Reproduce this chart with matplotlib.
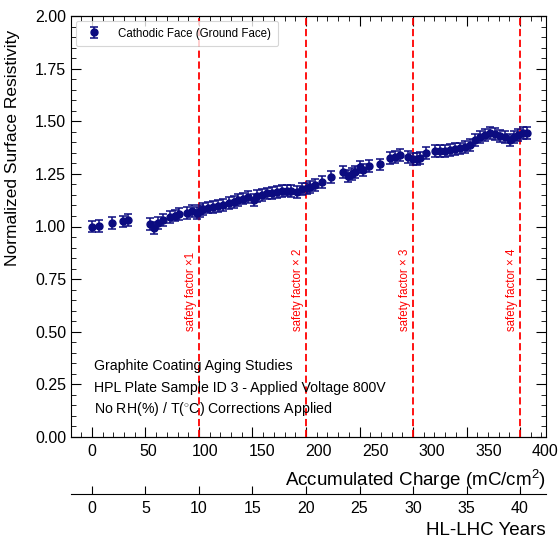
import matplotlib
matplotlib.use("Agg")
import matplotlib.pyplot as plt
from matplotlib.ticker import MultipleLocator, FormatStrFormatter

REG = "Liberation Sans"
plt.rcParams["font.family"] = [REG, "DejaVu Sans"]
plt.rcParams["mathtext.fontset"] = "custom"
plt.rcParams["mathtext.rm"] = REG

# ---------------- data ----------------
charge = [0, 6.5, 17.5, 27, 32, 51, 54.5, 58.5, 63, 68.5, 73, 77, 83.5, 88, 92.5, 95,
          98, 102.5, 107, 111.5, 116, 120.5, 125, 129, 133.5, 138, 142.5, 145.5, 150,
          154, 158.5, 163, 167.5, 172, 176, 180.5, 185, 189.5, 192, 197, 202.5, 210.5,
          221, 226, 229, 232, 236, 239, 244.5, 254, 263, 267, 272, 279, 283, 286.5,
          289, 294.5, 302.5, 307, 311.5, 316, 320, 324.5, 329, 333.5, 338, 342, 347,
          351, 355.5, 360, 364.5, 369, 372, 376, 380.5, 384]
resistivity = [1.000, 1.003, 1.015, 1.024, 1.031, 1.012, 0.992, 1.015, 1.031, 1.047,
               1.052, 1.059, 1.066, 1.074, 1.064, 1.075, 1.085, 1.090, 1.093, 1.097,
               1.102, 1.110, 1.117, 1.125, 1.133, 1.139, 1.127, 1.145, 1.150, 1.157,
               1.161, 1.165, 1.169, 1.171, 1.170, 1.165, 1.177, 1.181, 1.186, 1.197,
               1.212, 1.234, 1.260, 1.240, 1.249, 1.260, 1.281, 1.268, 1.287, 1.295,
               1.324, 1.332, 1.340, 1.332, 1.322, 1.319, 1.324, 1.348, 1.360, 1.360,
               1.360, 1.363, 1.367, 1.371, 1.379, 1.387, 1.411, 1.427, 1.435, 1.443,
               1.438, 1.430, 1.427, 1.411, 1.427, 1.435, 1.443, 1.443]
res_err = [0.028] * len(resistivity)

charge_per_year = 9.44
safety_years = [10, 20, 30, 40]
safety_labels = ["safety factor \u00d71", "safety factor \u00d7 2",
                 "safety factor \u00d7 3", "safety factor \u00d7 4"]
charge_ticks = [0, 50, 100, 150, 200, 250, 300, 350, 400]
year_ticks = [0, 5, 10, 15, 20, 25, 30, 35, 40]
info_lines = ["Graphite Coating Aging Studies",
              "HPL Plate Sample ID 3 - Applied Voltage 800V",
              "No RH(%) / T($^{\\circ}$C) Corrections Applied"]

# ---------------- figure ----------------
W, H = 560, 541
fig = plt.figure(figsize=(W / 100, H / 100), dpi=100)
L, R, T, B = 71, 546, 16, 437
ax = fig.add_axes([L / W, 1 - B / H, (R - L) / W, (B - T) / H])
ax.set_xlim(-18.5, 400.5)
ax.set_ylim(0, 2.0)

navy = "#0b0b80"
ax.errorbar(charge, resistivity, yerr=res_err, fmt="o", color=navy, ecolor=navy,
            markersize=5, capsize=3, elinewidth=1.1, capthick=1.1,
            label="Cathodic Face (Ground Face)", zorder=3)

for yr, lab in zip(safety_years, safety_labels):
    xc = yr * charge_per_year
    ax.axvline(xc, color="red", linestyle=(0, (4, 2)), linewidth=1.3, zorder=2)
    ax.text(xc - 7, 0.505, lab, rotation=90, color="red", fontsize=8.3,
            ha="center", va="bottom")

# y axis
ax.yaxis.set_major_locator(MultipleLocator(0.25))
ax.yaxis.set_minor_locator(MultipleLocator(0.05))
ax.yaxis.set_major_formatter(FormatStrFormatter("%.2f"))
ax.tick_params(axis="y", which="both", direction="in", right=True, labelsize=11.5)
ax.tick_params(axis="y", which="major", length=7)
ax.tick_params(axis="y", which="minor", length=3.5)
ax.set_ylabel("Normalized Surface Resistivity", fontsize=12.5, loc="top")
ax.yaxis.set_label_coords(-0.107, 0.967)

# primary x labels (charge), marks hidden
ax.set_xticks(charge_ticks)
ax.set_xticklabels([str(t) for t in charge_ticks])
ax.tick_params(axis="x", which="major", length=0, labelsize=11.5, pad=5)

c2y = (lambda c: c / charge_per_year, lambda y: y * charge_per_year)
for loc in ("bottom", "top"):
    sec = ax.secondary_xaxis(loc, functions=c2y)
    sec.set_xticks(year_ticks)
    sec.xaxis.set_minor_locator(MultipleLocator(1))
    sec.tick_params(which="both", direction="in", labelbottom=False, labeltop=False)
    sec.tick_params(which="major", length=7)
    sec.tick_params(which="minor", length=3.5)

yrs = ax.secondary_xaxis(-0.135, functions=c2y)
yrs.set_xticks(year_ticks)
yrs.tick_params(which="major", direction="in", length=6, labelsize=11.5, pad=5)
yrs.tick_params(which="minor", length=0)

ax.text(1.0, -0.1, "Accumulated Charge (mC/cm$^2$)", transform=ax.transAxes,
        ha="right", va="center", fontsize=13.5)
ax.text(1.0, -0.222, "HL-LHC Years", transform=ax.transAxes,
        ha="right", va="center", fontsize=13.5)

for i, line in enumerate(info_lines):
    ax.text(0.049, 0.168 - i * 0.051, line, transform=ax.transAxes,
            fontsize=10.2, ha="left", va="center")

leg = ax.legend(loc="upper left", fontsize=8.3, frameon=True, fancybox=True,
                borderaxespad=0.4, borderpad=0.6, handletextpad=1.1)
leg.get_frame().set_edgecolor("#cccccc")
leg.get_frame().set_linewidth(0.8)

fig.savefig("out.png", dpi=100)
